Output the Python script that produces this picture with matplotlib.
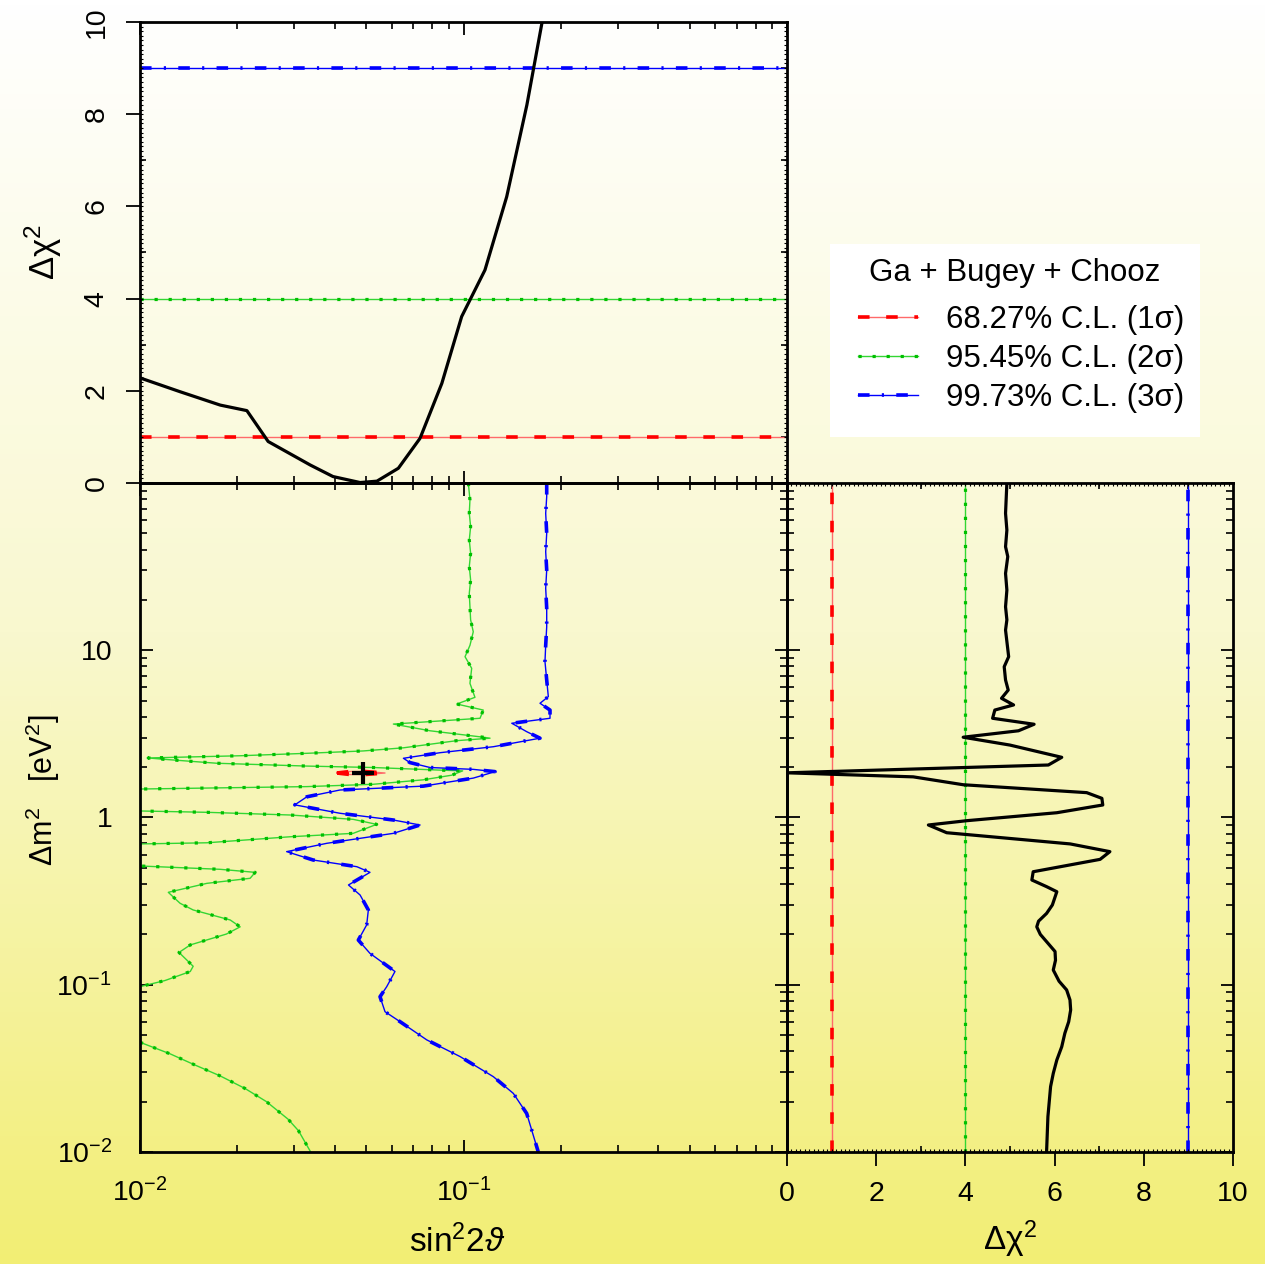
import numpy as np
import matplotlib
matplotlib.use("Agg")
import matplotlib.pyplot as plt
from matplotlib.patches import Rectangle
from matplotlib.ticker import FixedLocator, LogLocator, MultipleLocator, FuncFormatter, NullFormatter
from matplotlib.colors import LinearSegmentedColormap

plt.rcParams['font.family'] = ['Liberation Sans', 'DejaVu Sans']
plt.rcParams['mathtext.fontset'] = 'custom'
plt.rcParams['mathtext.rm'] = 'Liberation Sans'
plt.rcParams['mathtext.it'] = 'Liberation Sans:italic'
plt.rcParams['mathtext.bf'] = 'Liberation Sans:bold'

# --- profile Δχ² vs sin²2θ (top panel)
s22_prof = [0.0100, 0.0133, 0.0177, 0.0214, 0.0249, 0.0336, 0.0395, 0.0479, 0.0540,
            0.0629, 0.0734, 0.0857, 0.0987, 0.1165, 0.136, 0.157, 0.175]
chi2_s22 = [2.28, 1.98, 1.69, 1.57, 0.90, 0.39, 0.14, 0.01, 0.04,
            0.32, 0.97, 2.16, 3.61, 4.62, 6.21, 8.20, 10.0]

# --- profile Δχ² vs Δm² (right panel)
dm2_prof = [100, 65.9, 52.3, 41.6, 36.3, 28.8, 22.9, 18.2, 15.2, 13.2,
            9.15, 7.97, 6.64, 5.78, 5.16, 4.71, 4.39, 3.92, 3.61, 3.30,
            3.02, 2.71, 2.29, 2.06, 1.85, 1.75, 1.57, 1.408, 1.302, 1.188,
            1.068, 0.957, 0.902, 0.811, 0.695, 0.625, 0.562, 0.474, 0.423, 0.386,
            0.360, 0.300, 0.267, 0.240, 0.222, 0.200, 0.181, 0.158, 0.140, 0.1225,
            0.105, 0.0931, 0.0811, 0.0707, 0.0601, 0.0513, 0.0426, 0.0355, 0.0295, 0.0246,
            0.01626, 0.01]
chi2_dm2 = [4.93, 4.90, 4.93, 4.90, 4.95, 4.90, 4.93, 4.90, 4.93, 4.90,
            4.97, 4.87, 4.90, 4.96, 4.81, 5.08, 4.66, 4.61, 5.54, 5.19,
            3.95, 5.00, 6.16, 5.86, 0.00, 2.83, 3.95, 6.72, 7.06, 7.08,
            6.05, 4.03, 3.17, 3.58, 6.35, 7.24, 7.02, 5.52, 5.49, 5.82,
            6.05, 5.95, 5.82, 5.64, 5.60, 5.68, 5.82, 6.01, 6.02, 5.97,
            6.10, 6.27, 6.345, 6.36, 6.316, 6.23, 6.16, 6.05, 5.97, 5.91,
            5.85, 5.82]

# --- allowed regions (sin²2θ, Δm²)
red_s22 = [0.0406, 0.0446, 0.0496, 0.0572, 0.0496, 0.0446, 0.0406]
red_dm2 = [1.845, 1.884, 1.884, 1.845, 1.807, 1.807, 1.845]

green_s22 = [0.1035, 0.1047, 0.1042, 0.1052, 0.1042, 0.1052, 0.1042, 0.1052, 0.1042, 0.1047,
             0.1052, 0.1072, 0.1047, 0.1011, 0.1060, 0.1047, 0.1085, 0.0953, 0.1151, 0.1125,
             0.0607, 0.0788, 0.1151, 0.1208, 0.0953, 0.0652, 0.0490, 0.0328, 0.0204, 0.0106,
             0.0118, 0.0173, 0.0328, 0.0526, 0.0846, 0.0994, 0.0919, 0.0751, 0.0526, 0.0328,
             0.0161, 0.0100, 0.0080, 0.0100, 0.0161, 0.0291, 0.0456, 0.0539, 0.0456, 0.0291,
             0.0161, 0.0100, 0.0080, 0.0100, 0.0177, 0.0227, 0.0219, 0.0161, 0.01223, 0.0133,
             0.0146, 0.0190, 0.0204, 0.0185, 0.0143, 0.0132, 0.0146, 0.0143, 0.01195, 0.0100,
             0.0080]
green_dm2 = [100, 79.1, 65.9, 54.8, 45.6, 38.0, 31.6, 26.3, 21.9, 18.2,
             15.2, 12.9, 10.7, 9.15, 7.80, 6.34, 5.23, 4.77, 4.39, 3.92,
             3.62, 3.30, 3.02, 2.98, 2.88, 2.61, 2.50, 2.42, 2.34, 2.27,
             2.23, 2.11, 2.03, 1.99, 1.92, 1.90, 1.79, 1.68, 1.58, 1.53,
             1.50, 1.48, 1.30, 1.094, 1.074, 1.035, 0.975, 0.910, 0.804, 0.767,
             0.706, 0.695, 0.600, 0.513, 0.490, 0.470, 0.433, 0.404, 0.357, 0.307,
             0.280, 0.244, 0.222, 0.201, 0.173, 0.156, 0.129, 0.120, 0.106, 0.0974,
             0.090]
green_low_s22 = [0.0100, 0.0124, 0.0148, 0.0177, 0.0211, 0.0246, 0.0287, 0.0309, 0.0337]
green_low_dm2 = [0.0453, 0.0386, 0.0331, 0.0285, 0.0240, 0.0200, 0.0157, 0.0134, 0.0100]

blue_s22 = [0.1808, 0.1808, 0.1795, 0.1808, 0.1795, 0.1808, 0.1795, 0.1808, 0.1808, 0.1795,
            0.1786, 0.1808, 0.1829, 0.1724, 0.1851, 0.1851, 0.141, 0.1568, 0.1724, 0.1237,
            0.0846, 0.0652, 0.0683, 0.0788, 0.1072, 0.1252, 0.1072, 0.0751, 0.0415, 0.0328,
            0.0301, 0.0415, 0.0607, 0.0734, 0.0607, 0.0378, 0.0284, 0.0343, 0.0468, 0.0514,
            0.0441, 0.0479, 0.0508, 0.0502, 0.0473, 0.0514, 0.0614, 0.0579, 0.0552, 0.0572,
            0.0637, 0.0770, 0.0976, 0.1237, 0.1426, 0.1568, 0.1703]
blue_dm2 = [100, 82.8, 65.9, 50.0, 38.8, 30.2, 23.5, 17.8, 13.8, 10.7,
            8.55, 6.64, 5.28, 4.82, 4.39, 3.92, 3.66, 3.26, 2.98, 2.65,
            2.44, 2.26, 2.13, 1.99, 1.94, 1.88, 1.72, 1.54, 1.46, 1.33,
            1.19, 1.06, 0.966, 0.902, 0.804, 0.701, 0.625, 0.557, 0.508, 0.470,
            0.395, 0.344, 0.280, 0.228, 0.185, 0.154, 0.120, 0.0974, 0.0848, 0.0690,
            0.0601, 0.0468, 0.0372, 0.0282, 0.0224, 0.0170, 0.0100]

best_fit = (0.049, 1.85)
cl_levels = [1.0, 4.0, 9.0]
cl_labels = ["68.27% C.L. (1σ)", "95.45% C.L. (2σ)", "99.73% C.L. (3σ)"]
chi2_ticks = [0, 2, 4, 6, 8, 10]


def cl_line(ax, x, y, level):
    """Ligne fine + motif épais, comme dans l'original."""
    if level == 0:
        a, = ax.plot(x, y, color='#ff6a6a', lw=1.0)
        b, = ax.plot(x, y, color='#ff0000', lw=2.6, dashes=(3.2, 4.6), solid_capstyle='butt')
    elif level == 1:
        a, = ax.plot(x, y, color='#33d633', lw=1.0)
        b, = ax.plot(x, y, color='#00c000', lw=2.3, dashes=(1.0, 3.4))
    else:
        a, = ax.plot(x, y, color='#0000ff', lw=1.0)
        b, = ax.plot(x, y, color='#0000ff', lw=2.6, dashes=(3.2, 3.4, 0.6, 3.4))
    return (a, b)


fig = plt.figure(figsize=(12.65, 12.64), dpi=100)
W, H = 1265, 1264

# fond dégradé
bg = fig.add_axes([0, 0, 1, 1], zorder=-5)
cmap = LinearSegmentedColormap.from_list("bg", ["#ffffff", "#f9f8cf", "#f2ee74"])
bg.imshow(np.linspace(0, 1, 256).reshape(-1, 1), aspect='auto', cmap=cmap, extent=[0, 1, 0, 1])
bg.axis('off')

ax_m = fig.add_axes([140 / W, 1 - 1152 / H, 647 / W, 669 / H])
ax_t = fig.add_axes([140 / W, 1 - 483 / H, 647 / W, 461 / H], sharex=ax_m)
ax_r = fig.add_axes([787 / W, 1 - 1152 / H, 446 / W, 669 / H], sharey=ax_m)
for ax in (ax_m, ax_t, ax_r):
    ax.set_facecolor('none')
    for s in ax.spines.values():
        s.set_linewidth(2.0)

# --- panneau principal
ax_m.set_xscale('log')
ax_m.set_yscale('log')
ax_m.set_xlim(1e-2, 1)
ax_m.set_ylim(1e-2, 1e2)
cl_line(ax_m, green_low_s22, green_low_dm2, 1)
cl_line(ax_m, green_s22, green_dm2, 1)
cl_line(ax_m, blue_s22, blue_dm2, 2)
cl_line(ax_m, red_s22, red_dm2, 0)
ax_m.plot(*best_fit, marker='+', color='black', ms=16, mew=3)

ax_m.xaxis.set_major_locator(FixedLocator([1e-2, 1e-1, 1]))
ax_m.yaxis.set_major_locator(FixedLocator([1e-2, 1e-1, 1, 10, 100]))
ax_m.xaxis.set_minor_locator(LogLocator(subs=np.arange(2, 10)))
ax_m.yaxis.set_minor_locator(LogLocator(subs=np.arange(2, 10)))
ax_m.xaxis.set_minor_formatter(NullFormatter())
ax_m.yaxis.set_minor_formatter(NullFormatter())
xlab = {1e-2: r'$\mathregular{10^{-2}}$', 1e-1: r'$\mathregular{10^{-1}}$'}
ylab = {1e-2: r'$\mathregular{10^{-2}}$', 1e-1: r'$\mathregular{10^{-1}}$', 1: '1', 10: '10'}
ax_m.xaxis.set_major_formatter(FuncFormatter(lambda v, p: xlab.get(round(v, 4), '')))
ax_m.yaxis.set_major_formatter(FuncFormatter(lambda v, p: ylab.get(round(v, 4), '')))
ax_m.tick_params(which='both', direction='in', top=True, right=True, labelsize=20.5)
ax_m.tick_params(axis='x', pad=19)
ax_m.tick_params(axis='y', pad=20)
ax_m.tick_params(which='major', length=9, width=1.3)
ax_m.tick_params(which='minor', length=5, width=1.2)
ax_m.set_xlabel(r'sin$\mathregular{^2}$2$\vartheta$', fontsize=24)
ax_m.xaxis.set_label_coords(0.49, -0.108)
ax_m.set_ylabel(r'$\mathregular{\Delta m^2}$   [eV$\mathregular{^2}$]', fontsize=22)
ax_m.yaxis.set_label_coords(-0.12, 0.541)

# --- panneau du haut
ax_t.set_ylim(0, 10)
for lev, c in enumerate(cl_levels):
    cl_line(ax_t, [1e-2, 1], [c, c], lev)
ax_t.plot(s22_prof, chi2_s22, color='black', lw=2.3)
tw = ax_t.twinx()
tw.set_ylim(0, 10)
tw.yaxis.set_major_locator(MultipleLocator(0.1))
tw.tick_params(axis='y', direction='in', length=2, width=0.8, left=True, right=True,
               labelleft=False, labelright=False)
for s in tw.spines.values():
    s.set_visible(False)
ax_t.yaxis.set_major_locator(FixedLocator(chi2_ticks))
ax_t.yaxis.set_minor_locator(MultipleLocator(1))
ax_t.tick_params(axis='x', which='both', direction='in', top=True, bottom=True, labelbottom=False)
ax_t.tick_params(axis='x', which='major', length=9, width=1.3)
ax_t.tick_params(axis='x', which='minor', length=5, width=1.2)
ax_t.tick_params(axis='y', which='major', direction='out', left=True, right=False,
                 length=10, width=1.3, labelsize=20.5, labelrotation=90, pad=12)
ax_t.tick_params(axis='y', which='minor', direction='in', left=True, right=True, length=4, width=1.2)
for t in ax_t.get_yticklabels():
    t.set_va('center')
ax_t.set_ylabel(r'$\mathregular{\Delta\chi^2}$', fontsize=25)
ax_t.yaxis.set_label_coords(-0.117, 0.501)

# --- panneau de droite
ax_r.set_xlim(0, 10)
for lev, c in enumerate(cl_levels):
    cl_line(ax_r, [c, c], [1e-2, 1e2], lev)
ax_r.plot(chi2_dm2, dm2_prof, color='black', lw=2.3)
tw2 = ax_r.twiny()
tw2.set_xlim(0, 10)
tw2.xaxis.set_major_locator(MultipleLocator(0.1))
tw2.tick_params(axis='x', direction='in', length=2, width=0.8, top=True, bottom=True,
                labeltop=False, labelbottom=False)
for s in tw2.spines.values():
    s.set_visible(False)
ax_r.xaxis.set_major_locator(FixedLocator(chi2_ticks))
ax_r.xaxis.set_minor_locator(MultipleLocator(1))
ax_r.tick_params(axis='x', which='major', direction='out', bottom=True, top=False,
                 length=10, width=1.3, labelsize=20.5, pad=11)
ax_r.tick_params(axis='x', which='minor', direction='in', bottom=True, top=True, length=4, width=1.2)
ax_r.tick_params(axis='y', which='both', direction='in', left=True, right=True, labelleft=False)
ax_r.tick_params(axis='y', which='major', length=9, width=1.3)
ax_r.tick_params(axis='y', which='minor', length=5, width=1.2)
ax_r.set_xlabel(r'$\mathregular{\Delta\chi^2}$', fontsize=24)
ax_r.xaxis.set_label_coords(0.5, -0.1)

# --- légende (cadre blanc + titre + entrées)
fig.patches.append(Rectangle((830 / W, 1 - 437 / H), 370 / W, 193 / H, transform=fig.transFigure,
                             facecolor='white', edgecolor='none', zorder=1))
fig.text(1015 / W, 1 - 273 / H, "Ga + Bugey + Chooz", fontsize=22.5, ha='center', va='center',
         zorder=3)
handles = []
for lev in range(3):
    handles.append(cl_line(ax_t, [np.nan], [np.nan], lev))
leg = fig.legend(handles, cl_labels, loc='upper left', bbox_to_anchor=(858 / W, 1 - 305 / H),
                 borderaxespad=0, borderpad=0, prop={'size': 22.5}, handlelength=1.91,
                 handletextpad=0.89, labelspacing=0.29, frameon=False)
leg.set_zorder(3)

fig.savefig("out.png", dpi=100)
